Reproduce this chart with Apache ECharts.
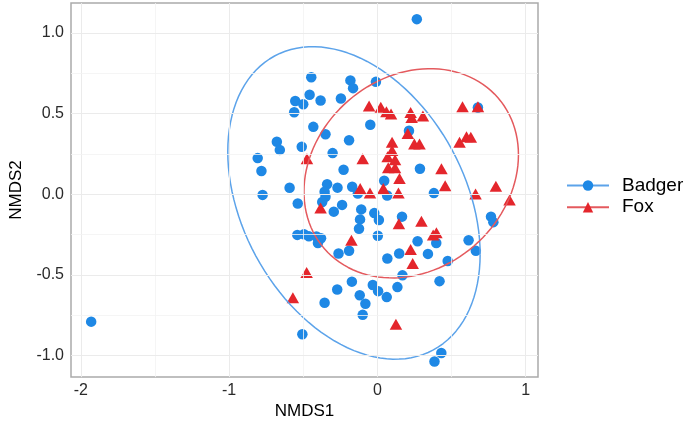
<!DOCTYPE html>
<html><head><meta charset="utf-8">
<script src="https://cdn.jsdelivr.net/npm/echarts@6/dist/echarts.min.js"></script>
<style>html,body{margin:0;padding:0;background:#fff}#c{width:685px;height:425px}</style>
</head><body><div id="c"></div>
<script>
const badgerX = [-1.930,0.266,-0.446,-0.182,-0.164,-0.010,-0.457,-0.554,-0.500,-0.561,-0.383,-0.246,-0.048,-0.432,-0.350,-0.191,-0.678,-0.658,-0.510,-0.302,-0.807,-0.782,-0.228,-0.592,-0.774,-0.339,-0.269,-0.356,-0.350,-0.372,-0.170,-0.132,-0.537,-0.294,-0.238,-0.109,-0.117,-0.124,-0.021,0.010,0.003,-0.540,-0.495,-0.462,-0.411,-0.380,-0.401,-0.262,-0.191,-0.172,-0.271,-0.356,-0.031,0.005,0.063,-0.119,-0.081,-0.099,-0.506,0.287,0.381,0.166,0.271,0.397,0.615,0.664,0.766,0.782,0.067,0.147,0.341,0.474,0.169,0.419,0.135,0.431,0.385,0.213,0.678,0.046,0.066];
const badgerY = [-0.790,1.086,0.726,0.706,0.658,0.697,0.617,0.578,0.558,0.509,0.581,0.594,0.431,0.418,0.372,0.335,0.326,0.275,0.294,0.255,0.224,0.144,0.152,0.040,-0.004,0.062,0.041,0.015,-0.016,-0.048,0.046,0.004,-0.057,-0.108,-0.066,-0.094,-0.156,-0.214,-0.117,-0.160,-0.257,-0.252,-0.248,-0.260,-0.262,-0.273,-0.303,-0.368,-0.350,-0.542,-0.591,-0.673,-0.563,-0.601,-0.638,-0.626,-0.679,-0.748,-0.868,0.158,0.007,-0.139,-0.291,-0.302,-0.285,-0.351,-0.139,-0.173,-0.398,-0.367,-0.370,-0.414,-0.503,-0.539,-0.576,-0.985,-1.037,0.394,0.538,0.084,-0.008];
const foxX = [-0.056,0.023,0.061,0.092,0.224,0.231,0.307,0.574,0.678,0.205,0.249,0.284,0.099,0.099,0.069,0.119,0.554,0.601,0.630,0.432,0.073,0.119,0.149,0.040,0.142,0.457,0.799,0.662,0.891,0.145,0.297,0.398,0.376,0.224,0.238,0.125,-0.477,-0.570,-0.175,-0.383,-0.475,-0.099,-0.116,-0.050];
const foxY = [0.548,0.540,0.512,0.497,0.507,0.476,0.486,0.543,0.543,0.377,0.312,0.312,0.322,0.271,0.232,0.214,0.322,0.357,0.353,0.158,0.164,0.164,0.097,0.035,0.007,0.052,0.050,0.001,-0.036,-0.183,-0.168,-0.239,-0.252,-0.343,-0.430,-0.806,-0.485,-0.642,-0.285,-0.085,0.220,0.220,0.035,0.007];
const xTicks = [-2,-1,0,1];
const xMinor = [-1.5,-0.5,0.5];
const yTicks = [-1,-0.5,0,0.5,1];
const yMinor = [-0.75,-0.25,0.25,0.75];
const badgerEllipseCenter = [-0.158,-0.054];
const badgerEllipseShape = [[0.724,-0.27],[-0.27,0.939]];
const foxEllipseCenter = [0.228,0.130];
const foxEllipseShape = [[0.523,0.083],[0.083,0.421]];

function ellipse(c, S){
  const l11=Math.sqrt(S[0][0]), l21=S[1][0]/l11, l22=Math.sqrt(S[1][1]-l21*l21);
  const pts=[];
  for(let i=0;i<=120;i++){const t=2*Math.PI*i/120;const u=Math.cos(t),v=Math.sin(t);
    pts.push([c[0]+l11*u, c[1]+l21*u+l22*v]);}
  return pts;
}
const zip=(a,b)=>a.map((v,i)=>[v,b[i]]);
const FONT='Liberation Sans, Arial, sans-serif';
const BLUE='#1e88e5', RED='#e4262c', BLUE_L='#5ca3ea', RED_L='#e45a5e';
const gridLines=[].concat(
  xTicks.map(v=>({xAxis:v,lineStyle:{color:'#ebebeb',width:1,type:'solid'}})),
  xMinor.map(v=>({xAxis:v,lineStyle:{color:'#f3f3f3',width:0.8,type:'solid'}})),
  yTicks.map(v=>({yAxis:v,lineStyle:{color:'#ebebeb',width:1,type:'solid'}})),
  yMinor.map(v=>({yAxis:v,lineStyle:{color:'#f3f3f3',width:0.8,type:'solid'}}))
);
const chart=echarts.init(document.getElementById('c'),null,{renderer:'canvas'});
chart.setOption({
  animation:false,
  backgroundColor:'#fff',
  grid:{left:61,top:3,width:477,height:377,show:true,borderColor:'#aaaaaa',borderWidth:1.5,backgroundColor:'transparent'},
  xAxis:{type:'value',min:-2.066,max:1.083,
    name:'NMDS1',nameLocation:'middle',nameGap:22,
    nameTextStyle:{fontFamily:FONT,fontSize:17,color:'#000'},
    axisLine:{show:false},splitLine:{show:false},
    axisTick:{show:true,customValues:xTicks,length:4,lineStyle:{color:'#999'}},
    axisLabel:{customValues:xTicks,margin:5,fontFamily:FONT,fontSize:16,color:'#2a2a2a',formatter:v=>String(v)}},
  yAxis:{type:'value',min:-1.134,max:1.186,
    name:'NMDS2',nameLocation:'middle',nameGap:46,nameRotate:90,
    nameTextStyle:{fontFamily:FONT,fontSize:17,color:'#000'},
    axisLine:{show:false},splitLine:{show:false},
    axisTick:{show:true,customValues:yTicks,length:4,lineStyle:{color:'#999'}},
    axisLabel:{customValues:yTicks,margin:7,fontFamily:FONT,fontSize:16,color:'#2a2a2a',formatter:v=>v.toFixed(1)}},
  legend:{data:['Badger','Fox'],orient:'vertical',left:561,top:171,itemWidth:42,itemHeight:13,itemGap:2.7,
    textStyle:{fontFamily:FONT,fontSize:19,color:'#000',padding:[0,0,0,8]}},
  series:[
    {name:'Badger',type:'line',data:ellipse(badgerEllipseCenter,badgerEllipseShape),showSymbol:false,symbol:'circle',
      itemStyle:{color:BLUE},lineStyle:{color:BLUE_L,width:1.5},z:4,silent:true},
    {name:'Fox',type:'line',data:ellipse(foxEllipseCenter,foxEllipseShape),showSymbol:false,symbol:'triangle',
      itemStyle:{color:RED},lineStyle:{color:RED_L,width:1.5},z:4,silent:true},
    {name:'grid',type:'scatter',data:[],z:1,silent:true,
      markLine:{silent:true,symbol:['none','none'],label:{show:false},animation:false,data:gridLines}},
    {name:'Badger',type:'scatter',data:zip(badgerX,badgerY),symbol:'circle',symbolSize:10.5,itemStyle:{color:BLUE,opacity:1},z:2},
    {name:'Fox',type:'scatter',data:zip(foxX,foxY),symbol:'triangle',symbolSize:[12.5,11],itemStyle:{color:RED,opacity:1},z:3}
  ]
});
</script></body></html>
